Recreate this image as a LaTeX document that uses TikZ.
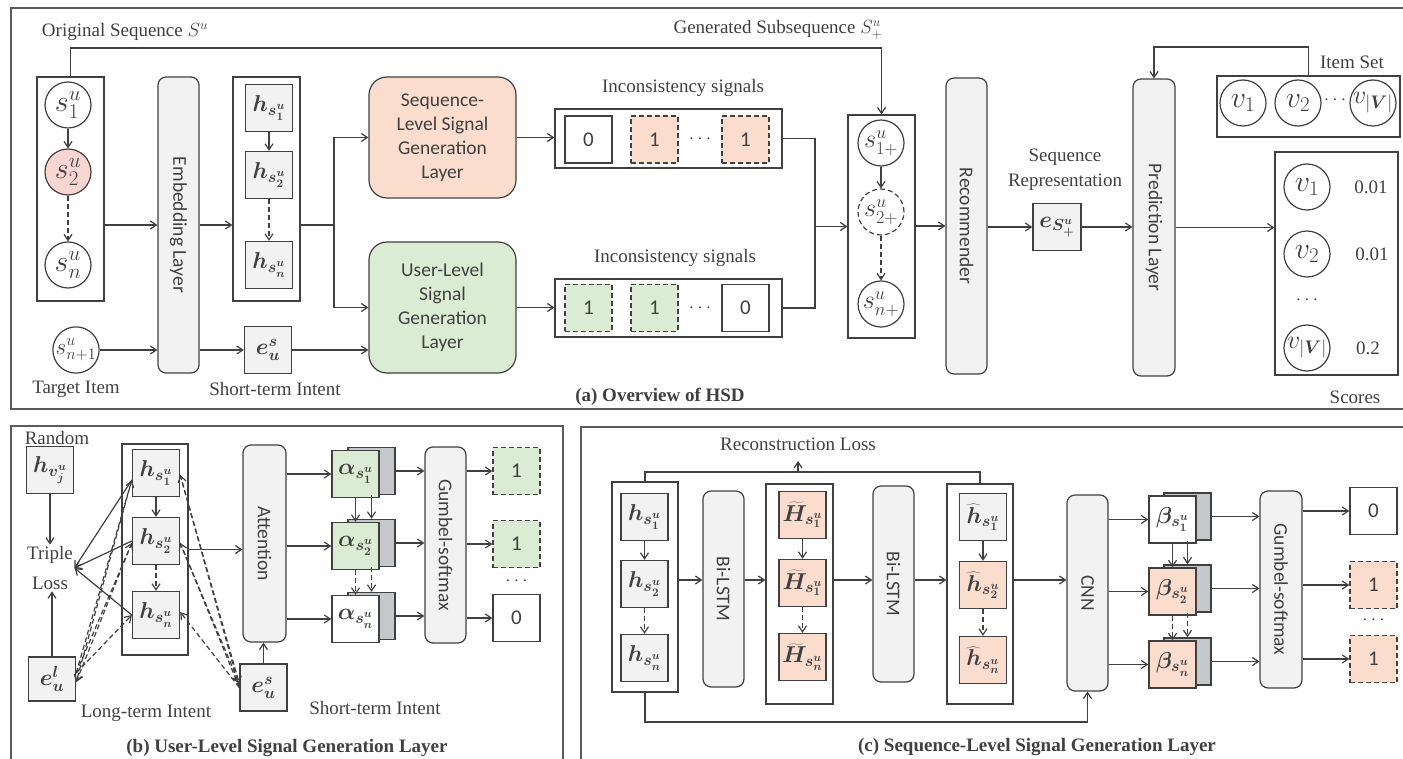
\RequirePackage{fix-cm}
\documentclass[tikz,border=0pt]{standalone}
\usepackage{fontspec}
\setmainfont{Liberation Serif}
\newfontfamily\carlito{Carlito}
\usepackage{bm}
\usetikzlibrary{arrows.meta, calc, fit, positioning}
\definecolor{linegray}{HTML}{404040}
\definecolor{framegray}{HTML}{5A5A5A}
\definecolor{boxgray}{HTML}{F2F2F2}
\definecolor{backgray}{HTML}{C4C8CB}
\definecolor{peach}{HTML}{FBDDCD}
\definecolor{pinkish}{HTML}{F8D6D2}
\definecolor{lgreen}{HTML}{DAEDD4}

\begin{document}
\begin{tikzpicture}[x=1pt, y=-1pt, color=linegray, line width=1.2pt,
	>={Straight Barb[length=6pt,width=8pt]},
	font=\fontsize{19}{22}\selectfont,
	circ/.style={draw=linegray,circle,fill=white,minimum size=46pt,inner sep=0pt,font=\fontsize{30}{32}\selectfont},
	sq/.style={draw=linegray,fill=boxgray,minimum size=47pt,inner sep=0pt,line width=1.4pt,font=\fontsize{23}{25}\selectfont},
	sig/.style={draw=linegray,fill=white,minimum size=47pt,inner sep=0pt,line width=1.4pt,font=\carlito\fontsize{21}{24}\selectfont},
	dsh/.style={dash pattern=on 5pt off 3pt},
	layer/.style={draw=linegray,fill=boxgray,rounded corners=8pt,inner sep=0pt},
	gen/.style={draw=linegray,rounded corners=18pt,inner sep=0pt,align=center,font=\carlito\fontsize{19.5}{24}\selectfont},
	vtext/.style={rotate=-90,font=\carlito\fontsize{19.5}{22}\selectfont},
	holder/.style={draw=linegray,inner sep=0pt},
	frame/.style={draw=framegray,line width=1.6pt},
	arr/.style={->},
	darr/.style={->,dsh},
	lab/.style={inner sep=1pt},
	captxt/.style={inner sep=1pt,font=\bfseries\fontsize{19}{22}\selectfont}
]
	\useasboundingbox (0,0) rectangle (1403,759);

	\draw[frame] (11,8) rectangle (1410,409);
	\node[lab] (origlab) at (125,32) {Original Sequence $S^u$};
	\node[lab] (genlab) at (778,30) {Generated Subsequence $S^u_+$};
	\node[holder,fit={(37,77) (104,301)}] (seqbox) {};
	\node[circ] (s1) at (68,105) {$s^u_1$};
	\node[circ,fill=pinkish] (s2) at (68,172) {$s^u_2$};
	\node[circ] (sn) at (68,265) {$s^u_n$};
	\node[circ,font=\fontsize{23}{25}\selectfont] (snx) at (76,350) {$s^u_{n+1}$};
	\node[lab] (tgtlab) at (76,389) {Target Item};
	\node[layer,fit={(158,77) (199,373)}] (emb) {};
	\node[vtext] (embtxt) at (emb) {Embedding Layer};
	\node[holder,fit={(233,77) (300,301)}] (hbox) {};
	\node[sq] (h1) at (269,108) {$\bm{h_{s^u_1}}$};
	\node[sq] (h2) at (269,175) {$\bm{h_{s^u_2}}$};
	\node[sq] (hn) at (269,265) {$\bm{h_{s^u_n}}$};
	\node[sq] (es) at (268,350) {$\bm{e^s_u}$};
	\node[lab] (stlab) at (275,389) {Short-term Intent};
	\node[gen,fill=peach,minimum width=147pt,minimum height=121pt] (seqgen) at (442.5,137.5) {Sequence-\\Level Signal\\Generation\\Layer};
	\node[gen,fill=lgreen,minimum width=147pt,minimum height=131pt] (usergen) at (442.5,307.5) {User-Level\\Signal\\Generation\\Layer};
	\node[lab] (toplab) at (683,88) {Inconsistency signals};
	\node[holder,fit={(555,109) (782,168)}] (topsig) {};
	\node[sig] (t0) at (588.5,139.5) {0};
	\node[sig,dsh,fill=peach] (t1) at (654.5,139.5) {1};
	\node (tdots) at (700,139.5) {$\cdots$};
	\node[sig,dsh,fill=peach] (t2) at (745.5,139.5) {1};
	\node[lab] (botlab) at (675,258) {Inconsistency signals};
	\node[holder,fit={(555,279) (782,337)}] (botsig) {};
	\node[sig,dsh,fill=lgreen] (b1) at (588.5,308) {1};
	\node[sig,dsh,fill=lgreen] (b2) at (654.5,308) {1};
	\node (bdots) at (700,308) {$\cdots$};
	\node[sig] (b0) at (745.5,308) {0};
	\node[holder,fit={(848,115) (915,338)}] (splus) {};
	\node[circ,font=\fontsize{26}{28}\selectfont] (p1) at (881,143) {$s^u_{1+}$};
	\node[circ,dsh,font=\fontsize{26}{28}\selectfont] (p2) at (881,212) {$s^u_{2+}$};
	\node[circ,font=\fontsize{26}{28}\selectfont] (pn) at (881,304) {$s^u_{n+}$};
	\node[layer,fit={(946,78) (987,374)}] (rec) {};
	\node[vtext] (rectxt) at (rec) {Recommender};
	\node[lab,align=center,font=\fontsize{19}{25}\selectfont] (reprlab) at (1065,170) {Sequence\\Representation};
	\node[sq,minimum width=48pt] (eS) at (1057,227) {$\bm{e_{S^u_+}}$};
	\node[layer,fit={(1133,79) (1175,376)}] (pred) {};
	\node[vtext] (predtxt) at (pred) {Prediction Layer};
	\node[lab] (itemlab) at (1352,62) {Item Set};
	\node[holder,fit={(1217,76) (1400,137)}] (itemset) {};
	\node[circ] (i1) at (1243,103) {$v_1$};
	\node[circ] (i2) at (1298,103) {$v_2$};
	\node (idots) at (1335,100) {$\cdots$};
	\node[circ,font=\fontsize{26}{28}\selectfont] (iV) at (1373,103) {$v_{|\bm{V}|}$};
	\node[holder,fit={(1275,152) (1398,375)}] (scores) {};
	\node[circ] (r1) at (1307,187) {$v_1$};
	\node[circ] (r2) at (1307,254) {$v_2$};
	\node (rdots) at (1307,300) {$\cdots$};
	\node[circ,font=\fontsize{26}{28}\selectfont] (rV) at (1307,348) {$v_{|\bm{V}|}$};
	\node (sc1) at (1371,187) {0.01};
	\node (sc2) at (1372,254) {0.01};
	\node (scV) at (1368,348) {0.2};
	\node[lab] (scorelab) at (1355,397) {Scores};
	\node[captxt] (capa) at (660,397) {(a) Overview of HSD};

	\coordinate (ytop) at (0,48);
	\coordinate (yitem) at (0,47);
	\coordinate (split) at (334,225);
	\coordinate (merge) at (815,226.5);
	\draw[arr] (seqbox.north) -- (seqbox.north |- ytop) -| (splus.north);
	\draw[arr] (s1) -- (s2);
	\draw[darr] (s2) -- (sn);
	\draw[arr] (h1) -- (h2);
	\draw[darr] (h2) -- (hn);
	\draw[arr] (p1) -- (p2);
	\draw[darr] (p2) -- (pn);
	\draw[arr] (seqbox.east |- emb.west) -- (emb.west);
	\draw[arr] (snx) -- (snx -| emb.west);
	\draw[arr] (emb.east) -- (emb.east -| hbox.west);
	\draw[arr] (es -| emb.east) -- (es);
	\draw (hbox.east |- split) -- (split);
	\draw[arr] (split) |- (seqgen.west);
	\draw[arr] (split) |- (usergen.west);
	\draw[arr] (es) -- (es -| usergen.west);
	\draw[arr] (seqgen.east) -- (seqgen.east -| topsig.west);
	\draw[arr] (usergen.east) -- (usergen.east -| botsig.west);
	\draw (topsig.east) -| (merge) |- (botsig.east);
	\draw[arr] (merge) -- (merge -| splus.west);
	\draw[arr] (splus.east |- rec.west) -- (rec.west);
	\draw[arr] (rec.east |- eS) -- (eS);
	\draw[arr] (eS) -- (eS -| pred.west);
	\draw[arr] (pred.east) -- (pred.east -| scores.west);
	\draw[arr] (itemset.north) -- (itemset.north |- yitem) -| (pred.north);

	\draw[frame] (11,426) rectangle (563,770);
	\node[lab] (randlab) at (57,438) {Random};
	\node[sq] (hv) at (50,470) {$\bm{h_{v^u_j}}$};
	\node[lab,align=center,font=\fontsize{19}{30}\selectfont] (loss) at (50,568) {Triple\\Loss};
	\node[sq,minimum height=44pt] (el) at (52,679) {$\bm{e^l_u}$};
	\node[holder,fit={(122,444) (188,655)}] (lbox) {};
	\node[sq] (u1) at (156,473) {$\bm{h_{s^u_1}}$};
	\node[sq] (u2) at (156,541) {$\bm{h_{s^u_2}}$};
	\node[sq] (un) at (156,615) {$\bm{h_{s^u_n}}$};
	\node[layer,fit={(243,445) (286,642)}] (att) {};
	\node[vtext] (atttxt) at (att) {Attention};
	\node[sq] (esb) at (263.5,687.5) {$\bm{e^s_u}$};
	\node[lab] (ltlab) at (146,713) {Long-term Intent};
	\node[lab] (stlab2) at (375,708) {Short-term Intent};
	\node[sq,fill=backgray] (a1b) at (371.5,471) {};
	\node[sq,fill=backgray] (a2b) at (371.5,543) {};
	\node[sq,fill=backgray] (anb) at (371.5,616) {};
	\node[sq,fill=lgreen] (a1) at (355.5,474) {$\bm{\alpha_{s^u_1}}$};
	\node[sq,fill=lgreen] (a2) at (355.5,546) {$\bm{\alpha_{s^u_2}}$};
	\node[sq,fill=white] (an) at (355.5,619) {$\bm{\alpha_{s^u_n}}$};
	\node[layer,fit={(425,447) (466,643)}] (gumb) {};
	\node[vtext] (gumbtxt) at (gumb) {Gumbel-softmax};
	\node[sig,dsh,fill=lgreen] (o1) at (516.5,471) {1};
	\node[sig,dsh,fill=lgreen] (o2) at (516.5,544) {1};
	\node (odots) at (516.5,581) {$\cdots$};
	\node[sig] (o0) at (516.5,618) {0};
	\node[captxt] (capb) at (287,748) {(b) User-Level Signal Generation Layer};

	\draw[arr] (hv) -- (loss);
	\draw[arr] (el.north) -- (el.north |- loss.south);
	\draw[arr] ([yshift=-7pt]u1.west) -- (loss.east);
	\draw[arr] (u2.west) -- (loss.east);
	\draw[arr] (un.west) -- (loss.east);
	\draw[darr] ([yshift=6pt]el.east) -- ([yshift=-7pt]u1.west);
	\draw[darr] ([yshift=-7pt]u1.west) -- ([yshift=-3pt]el.east);
	\draw[darr] ([yshift=6pt]el.east) -- ([yshift=-2pt]u2.west);
	\draw[darr] ([yshift=-2pt]u2.west) -- ([yshift=-3pt]el.east);
	\draw[darr] ([yshift=6pt]el.east) -- (un.west);
	\draw[darr] (esb.west) -- ([yshift=-2pt]u1.east);
	\draw[darr] ([yshift=-2pt]u1.east) -- ([yshift=4pt]esb.west);
	\draw[darr] (esb.west) -- ([yshift=-2pt]u2.east);
	\draw[darr] ([yshift=-2pt]u2.east) -- ([yshift=4pt]esb.west);
	\draw[darr] (esb.west) -- ([yshift=3pt]un.east);
	\draw[arr] (u1) -- (u2);
	\draw[darr] (u2) -- (un);
	\draw[arr] (lbox.east) -- (lbox.east -| att.west);
	\draw[arr] (esb) -- (esb |- att.south);
	\foreach \a in {a1,a2,an} \draw[arr] (att.east |- \a) -- (\a);
	\draw[arr] (a1) -- (a2);
	\draw[arr] (a1b) -- (a2b);
	\draw[darr] (a2) -- (an);
	\draw[darr] (a2b) -- (anb);
	\foreach \a in {a1b,a2b,anb} \draw[arr] (\a) -- (\a -| gumb.west);
	\foreach \o in {o1,o2,o0} \draw[arr] (gumb.east |- \o) -- (\o);

	\draw[frame] (581,427) rectangle (1410,770);
	\node[lab] (reclab) at (798,444) {Reconstruction Loss};
	\node[holder,fit={(612,482) (678,692)}] (cbox) {};
	\node[sq] (c1) at (644.5,517) {$\bm{h_{s^u_1}}$};
	\node[sq] (c2) at (644.5,584) {$\bm{h_{s^u_2}}$};
	\node[sq] (cn) at (644.5,658) {$\bm{h_{s^u_n}}$};
	\node[layer,fit={(703,491) (744,687)}] (lstma) {};
	\node[vtext] (lstmatxt) at (lstma) {Bi-LSTM};
	\node[holder,fit={(766,484) (833,704)}] (tbox) {};
	\node[sq,fill=peach] (tl1) at (802.5,515) {$\widetilde{\bm{H}}_{\bm{s^u_1}}$};
	\node[sq,fill=peach] (tl2) at (802.5,583) {$\widetilde{\bm{H}}_{\bm{s^u_1}}$};
	\node[sq,fill=peach] (tln) at (802.5,657) {$\widetilde{\bm{H}}_{\bm{s^u_n}}$};
	\node[layer,fit={(873,486) (914,682)}] (lstmb) {};
	\node[vtext] (lstmbtxt) at (lstmb) {Bi-LSTM};
	\node[holder,fit={(947,484) (1013,704)}] (hatbox) {};
	\node[sq] (hh1) at (983,517) {$\widehat{\bm{h}}_{\bm{s^u_1}}$};
	\node[sq,fill=peach] (hh2) at (983,585) {$\widehat{\bm{h}}_{\bm{s^u_2}}$};
	\node[sq,fill=peach] (hhn) at (983,660) {$\widehat{\bm{h}}_{\bm{s^u_n}}$};
	\node[layer,fit={(1067,495) (1108,691)}] (cnn) {};
	\node[vtext] (cnntxt) at (cnn) {CNN};
	\node[sq,fill=backgray] (bt1b) at (1187.5,516.5) {};
	\node[sq,fill=backgray] (bt2b) at (1187.5,588.5) {};
	\node[sq,fill=backgray] (btnb) at (1187.5,661.5) {};
	\node[sq,fill=white] (bt1) at (1172.5,519.5) {$\bm{\beta_{s^u_1}}$};
	\node[sq,fill=peach] (bt2) at (1172.5,591.5) {$\bm{\beta_{s^u_2}}$};
	\node[sq,fill=peach] (btn) at (1172.5,664.5) {$\bm{\beta_{s^u_n}}$};
	\node[layer,fit={(1260,491) (1302,688)}] (gumc) {};
	\node[vtext] (gumctxt) at (gumc) {Gumbel-softmax};
	\node[sig] (q0) at (1373.5,511) {0};
	\node[sig,dsh,fill=peach] (q1) at (1373.5,585) {1};
	\node (qdots) at (1373.5,620) {$\cdots$};
	\node[sig,dsh,fill=peach] (q2) at (1373.5,659) {1};
	\node[captxt] (capc) at (1037,747) {(c) Sequence-Level Signal Generation Layer};

	\coordinate (ytopc) at (0,472);
	\coordinate (ybotc) at (0,722);
	\coordinate (ymid) at (0,580);
	\coordinate (recmid) at (798,472);
	\coordinate (rectip) at (798,461);
	\draw (cbox.north) -- (cbox.north |- ytopc) -| (hatbox.north);
	\draw[arr] (recmid) -- (rectip);
	\draw[arr] (cbox.south) -- (cbox.south |- ybotc) -| (cnn.south);
	\draw[arr] (c1) -- (c2);
	\draw[darr] (c2) -- (cn);
	\draw[arr] (tl1) -- (tl2);
	\draw[darr] (tl2) -- (tln);
	\draw[arr] (hh1) -- (hh2);
	\draw[darr] (hh2) -- (hhn);
	\draw[arr] (cbox.east |- ymid) -- (lstma.west |- ymid);
	\draw[arr] (lstma.east |- ymid) -- (tbox.west |- ymid);
	\draw[arr] (tbox.east |- ymid) -- (lstmb.west |- ymid);
	\draw[arr] (lstmb.east |- ymid) -- (hatbox.west |- ymid);
	\draw[arr] (hatbox.east |- ymid) -- (cnn.west |- ymid);
	\foreach \b in {bt1,bt2,btn} \draw[arr] (cnn.east |- \b) -- (\b);
	\draw[arr] (bt1) -- (bt2);
	\draw[arr] (bt1b) -- (bt2b);
	\draw[darr] (bt2) -- (btn);
	\draw[darr] (bt2b) -- (btnb);
	\foreach \b in {bt1b,bt2b,btnb} \draw[arr] (\b) -- (\b -| gumc.west);
	\foreach \o in {q0,q1,q2} \draw[arr] (gumc.east |- \o) -- (\o);
\end{tikzpicture}
\end{document}
